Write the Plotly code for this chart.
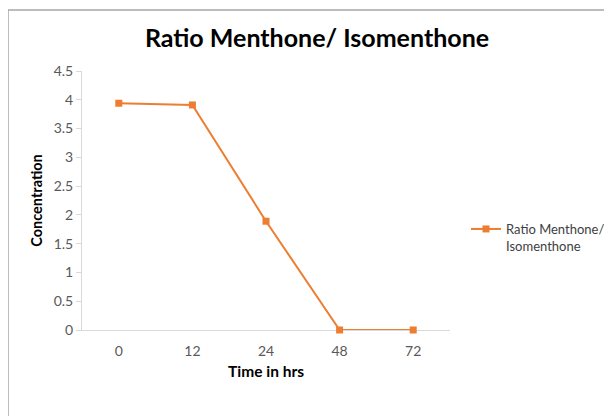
import plotly.graph_objects as go

categories = ["0", "12", "24", "48", "72"]
ratio = [3.94, 3.91, 1.89, 0.0, 0.0]
series_name = "Ratio Menthone/<br>Isomenthone"
y_ticks = [0, 0.5, 1, 1.5, 2, 2.5, 3, 3.5, 4, 4.5]
y_tick_labels = ["0", "0.5", "1", "1.5", "2", "2.5", "3", "3.5", "4", "4.5"]

# page body has an 8px margin, so figure coordinates are the reference's minus 8
OFF = 8
W, H = 612 - OFF, 416 - OFF
L, R, T, B = 82 - OFF, 450 - OFF, 71 - OFF, 330 - OFF
ORANGE = "#ED7D31"
AXIS = "#D9D9D9"
FONT = "Lato"

def px(xp):
    return (xp - OFF - L) / (R - L)

def py(yp):
    return (B - (yp - OFF)) / (B - T)

fig = go.Figure()
fig.add_trace(go.Scatter(
    x=categories, y=ratio, mode="lines+markers", name=series_name,
    line=dict(color=ORANGE, width=2),
    marker=dict(symbol="square", size=7, color=ORANGE),
    cliponaxis=False,
))

fig.update_layout(
    width=W, height=H,
    margin=dict(l=L, r=W - R, t=T, b=H - B, pad=0, autoexpand=False),
    paper_bgcolor="white", plot_bgcolor="white",
    font=dict(family=FONT, color="#595959", size=13),
    title=dict(text="<b>Ratio Menthone/ Isomenthone</b>", x=(317 - OFF) / W, xanchor="center",
               y=1 - (38 - OFF) / H, yanchor="middle",
               font=dict(family=FONT, size=25, color="#000000")),
    showlegend=True,
    legend=dict(x=px(466), y=py(214), xanchor="left", yanchor="top",
                font=dict(family=FONT, size=13, color="#404040"),
                valign="top", bgcolor="rgba(0,0,0,0)", itemwidth=30),
    xaxis=dict(
        type="category", range=[-0.5, 4.5], showgrid=False, zeroline=False,
        showline=True, linecolor=AXIS, linewidth=1, ticks="", automargin=False,
        ticklabelstandoff=8, layer="below traces",
        tickfont=dict(size=14, color="#595959"),
        title=dict(text="<b>Time in hrs</b>", standoff=8,
                   font=dict(family=FONT, size=15.5, color="#000000")),
    ),
    yaxis=dict(
        range=[0, 4.5], tickvals=y_ticks, ticktext=y_tick_labels, automargin=False,
        showgrid=False, zeroline=False, showline=True, linecolor=AXIS, linewidth=1,
        ticks="outside", ticklen=5, tickcolor=AXIS, layer="below traces",
        tickfont=dict(size=14, color="#595959"),
        title=dict(text="<b>Concentration</b>", standoff=7,
                   font=dict(family=FONT, size=14.5, color="#000000")),
    ),
)

# outer chart border (top and left edges visible)
fig.add_shape(type="line", xref="paper", yref="paper",
              x0=px(8), y0=py(420), x1=px(8), y1=py(10),
              line=dict(color="#A6A6A6", width=1.5))
fig.add_shape(type="line", xref="paper", yref="paper",
              x0=px(8), y0=py(10), x1=px(616), y1=py(10),
              line=dict(color="#A6A6A6", width=1.5))

fig.write_html("out.html")
